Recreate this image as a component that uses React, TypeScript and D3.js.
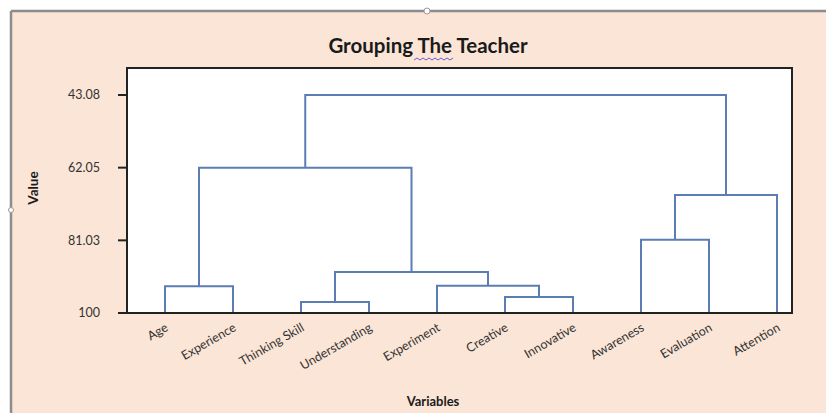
import React from 'react'
import * as d3 from 'd3'

// leaves in dendrogram order
const variables = [
  'Age',
  'Experience',
  'Thinking Skill',
  'Understanding',
  'Experiment',
  'Creative',
  'Innovative',
  'Awareness',
  'Evaluation',
  'Attention',
]

// merges: [left node, right node, similarity]; new nodes are numbered after the leaves
const mergeLeft = [2, 5, 0, 4, 10, 7, 15, 12, 17]
const mergeRight = [3, 6, 1, 11, 13, 8, 9, 14, 16]
const mergeLevel = [97.1, 95.8, 93.0, 92.9, 89.3, 80.9, 69.2, 62.05, 43.08]

const tickValues = [100, 81.03, 62.05, 43.08]
const tickLabels = ['100', '81.03', '62.05', '43.08']

const W = 826
const H = 413
const plot = { left: 127, top: 68, right: 792, bottom: 313 }
const font = 'Lato, "Open Sans", sans-serif'

const App = () => {
  // y scale (similarity, 100 at the bottom)
  const yScale = d3.scaleLinear().domain([100, 43.08]).range([plot.bottom, 95])

  // x scale for leaves
  const xScale = d3.scalePoint<string>().domain(variables).range([165, 777])

  // node positions
  const nodeX: number[] = variables.map((v) => xScale(v) as number)
  const nodeY: number[] = variables.map(() => yScale(100))
  const links: string[] = []
  mergeLeft.forEach((a, i) => {
    const b = mergeRight[i]
    const y = yScale(mergeLevel[i])
    const p = d3.path()
    p.moveTo(nodeX[a], nodeY[a])
    p.lineTo(nodeX[a], y)
    p.lineTo(nodeX[b], y)
    p.lineTo(nodeX[b], nodeY[b])
    links.push(p.toString())
    nodeX.push((nodeX[a] + nodeX[b]) / 2)
    nodeY.push(y)
  })

  return (
    <svg
      width={W}
      height={H}
      style={{ position: 'absolute', left: 0, top: 0, background: 'white' }}
    >
      {/* page frame */}
      <rect x={11} y={11} width={W - 11} height={H - 11} fill="#fbe5d6" />
      <line x1={11} y1={11} x2={W} y2={11} stroke="#8c8c8c" strokeWidth={2.5} />
      <line x1={11} y1={11} x2={11} y2={H} stroke="#8c8c8c" strokeWidth={2.5} />
      <circle cx={427} cy={11} r={3} fill="white" stroke="#9a9a9a" />
      <circle cx={11} cy={210} r={2.5} fill="white" stroke="#9a9a9a" />

      {/* title */}
      <text
        x={428}
        y={53}
        textAnchor="middle"
        fontFamily={font}
        fontWeight="bold"
        fontSize={20.5}
        fill="#1a1a1a"
      >
        Grouping The Teacher
      </text>
      <path
        d={d3.range(0, 42, 3).map((d, i) => `${i ? 'L' : 'M'}${414 + d},${i % 2 ? 58 : 60}`).join('')}
        fill="none"
        stroke="#6b5bd6"
        strokeWidth={1}
      />

      {/* plot area */}
      <rect
        x={plot.left}
        y={plot.top}
        width={plot.right - plot.left}
        height={plot.bottom - plot.top}
        fill="white"
      />

      {/* dendrogram */}
      <g fill="none" stroke="#5b7db4" strokeWidth={2}>
        {links.map((d, i) => (
          <path key={i} d={d} />
        ))}
      </g>

      <rect
        x={plot.left}
        y={plot.top}
        width={plot.right - plot.left}
        height={plot.bottom - plot.top}
        fill="none"
        stroke="#222"
        strokeWidth={2}
      />

      {/* y axis */}
      {tickValues.map((v, i) => (
        <g key={v} transform={`translate(0, ${yScale(v)})`}>
          <line x1={118} x2={plot.left} stroke="#222" strokeWidth={2} />
          <text
            x={100}
            dy="0.35em"
            textAnchor="end"
            fontFamily={font}
            fontSize={12.5}
            fill="#333"
          >
            {tickLabels[i]}
          </text>
        </g>
      ))}
      <text
        transform="translate(38, 188) rotate(-90)"
        textAnchor="middle"
        fontFamily={font}
        fontWeight="bold"
        fontSize={13.5}
        fill="#1a1a1a"
      >
        Value
      </text>

      {/* x axis labels */}
      {variables.map((v) => (
        <text
          key={v}
          transform={`translate(${(xScale(v) as number) + 4}, ${plot.bottom + 17}) rotate(-30)`}
          textAnchor="end"
          fontFamily={font}
          fontSize={12.5}
          fill="#333"
        >
          {v}
        </text>
      ))}
      <text
        x={433}
        y={406}
        textAnchor="middle"
        fontFamily={font}
        fontWeight="bold"
        fontSize={13}
        fill="#1a1a1a"
      >
        Variables
      </text>
    </svg>
  )
}

export default App
